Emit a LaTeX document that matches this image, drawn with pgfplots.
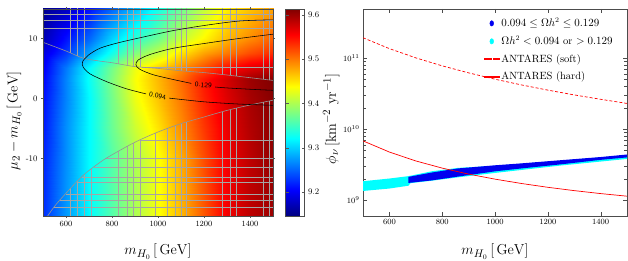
\documentclass[border=0pt]{standalone}
\usepackage{pgfplots}
\pgfplotsset{compat=1.18}
\definecolor{gridc}{RGB}{165,165,165}
\definecolor{cyn}{RGB}{0,255,255}
\definecolor{blu}{RGB}{0,0,240}
\definecolor{rd}{RGB}{255,0,0}
\begin{document}
\begin{tikzpicture}[x=1pt,y=1pt]
\begin{axis}[
  at={(43pt,44pt)}, anchor=south west,
  scale only axis, width=230pt, height=207pt,
  xmin=500, xmax=1500, ymin=-19.6, ymax=14.9,
  xtick={600,800,1000,1200,1400},
  ytick={-10,0,10}, yticklabels={-10,0,10},
  /pgf/number format/1000 sep={},
  tick align=outside, major tick length=2pt,
  tick style={gray!70!black, line width=0.4pt},
  axis line style={gray!60!black},
  tick label style={font=\fontsize{8.5}{10}\selectfont},
  xlabel={$m_{H_0}\,[\,\mathrm{GeV}]$},
  ylabel={$\mu_2-m_{H_0}\,[\,\mathrm{GeV}]$},
  label style={font=\fontsize{15}{18}\selectfont},
  xlabel style={at={(axis description cs:0.5,-0.172)}, anchor=center},
  ylabel style={at={(axis description cs:-0.125,0.46)}, anchor=center},
  colormap/jet,
  point meta min=9.146, point meta max=9.613,
  colorbar,
  colorbar style={
    at={(parent axis.north east)}, anchor=north west, xshift=4pt,
    scale only axis, width=19pt, height=207pt,
    ytick={9.2,9.3,9.4,9.5,9.6}, yticklabels={9.2,9.3,9.4,9.5,9.6},
    yticklabel style={font=\fontsize{8.5}{10}\selectfont},
    tick align=inside, major tick length=3pt,
    axis line style={gray!60!black},
  },
  axis on top,
]
\addplot[surf, shader=interp, mesh/rows=9, mesh/cols=11, point meta=explicit]
 table[x=x, y=y, meta=z] {
x y z
500 -20 9.225
600 -20 9.275
700 -20 9.32
800 -20 9.36
900 -20 9.40
1000 -20 9.435
1100 -20 9.47
1200 -20 9.515
1300 -20 9.56
1400 -20 9.585
1500 -20 9.60
500 -10 9.22
600 -10 9.27
700 -10 9.32
800 -10 9.36
900 -10 9.40
1000 -10 9.435
1100 -10 9.475
1200 -10 9.52
1300 -10 9.56
1400 -10 9.585
1500 -10 9.605
500 -5 9.215
600 -5 9.27
700 -5 9.32
800 -5 9.37
900 -5 9.415
1000 -5 9.45
1100 -5 9.49
1200 -5 9.53
1300 -5 9.565
1400 -5 9.59
1500 -5 9.607
500 0 9.21
600 0 9.265
700 0 9.32
800 0 9.375
900 0 9.43
1000 0 9.465
1100 0 9.50
1200 0 9.54
1300 0 9.57
1400 0 9.595
1500 0 9.61
500 3 9.205
600 3 9.265
700 3 9.325
800 3 9.38
900 3 9.435
1000 3 9.47
1100 3 9.505
1200 3 9.545
1300 3 9.575
1400 3 9.60
1500 3 9.615
500 5 9.20
600 5 9.26
700 5 9.32
800 5 9.375
900 5 9.43
1000 5 9.46
1100 5 9.49
1200 5 9.52
1300 5 9.55
1400 5 9.57
1500 5 9.58
500 7.5 9.19
600 7.5 9.23
700 7.5 9.28
800 7.5 9.33
900 7.5 9.38
1000 7.5 9.41
1100 7.5 9.45
1200 7.5 9.48
1300 7.5 9.50
1400 7.5 9.52
1500 7.5 9.535
500 10 9.17
600 10 9.21
700 10 9.25
800 10 9.30
900 10 9.34
1000 10 9.37
1100 10 9.41
1200 10 9.44
1300 10 9.47
1400 10 9.49
1500 10 9.51
500 15 9.15
600 15 9.175
700 15 9.21
800 15 9.25
900 15 9.29
1000 15 9.33
1100 15 9.37
1200 15 9.41
1300 15 9.445
1400 15 9.465
1500 15 9.48
};
% grid lines (excluded regions)
\addplot[gridc, line width=0.45pt, unbounded coords=jump] coordinates {
(620,15)(620,7.6)(620,nan)
(649,15)(649,7.1)(649,nan)
(679,15)(679,6.68)(679,nan)
(827,15)(827,5.8)(827,nan)
(866,15)(866,5.5)(866,nan)
(892,15)(892,5.35)(892,nan)
(921,15)(921,5.2)(921,nan)
(1041,15)(1041,4.85)(1041,nan)
(1073,15)(1073,4.7)(1073,nan)
(1102,15)(1102,4.6)(1102,nan)
(1124,15)(1124,4.53)(1124,nan)
(1280,15)(1280,3.98)(1280,nan)
(1312,15)(1312,3.85)(1312,nan)
(1341,15)(1341,3.72)(1341,nan)
(1456,15)(1456,3.2)(1456,nan)
(1485,15)(1485,3.07)(1485,nan)
(500,14.0)(1500,14.0)(1500,nan)
(500,13.0)(1500,13.0)(1500,nan)
(500,11.7)(1500,11.7)(1500,nan)
(930,5.2)(1500,5.2)
};
\addplot[gridc, line width=0.45pt, unbounded coords=jump] coordinates {
(620,-20)(620,-15.0)(620,nan)
(649,-20)(649,-13.8)(649,nan)
(679,-20)(679,-12.7)(679,nan)
(711,-20)(711,-11.7)(711,nan)
(827,-20)(827,-8.8)(827,nan)
(866,-20)(866,-8.0)(866,nan)
(892,-20)(892,-7.45)(892,nan)
(921,-20)(921,-6.95)(921,nan)
(986,-20)(986,-5.8)(986,nan)
(1041,-20)(1041,-5.0)(1041,nan)
(1073,-20)(1073,-4.6)(1073,nan)
(1102,-20)(1102,-4.2)(1102,nan)
(1124,-20)(1124,-3.95)(1124,nan)
(1280,-20)(1280,-2.2)(1280,nan)
(1312,-20)(1312,-1.9)(1312,nan)
(1341,-20)(1341,-1.65)(1341,nan)
(1456,-20)(1456,-0.65)(1456,nan)
(1485,-20)(1485,-0.4)(1485,nan)
(924,-6.9)(1500,-6.9)(1500,nan)
(775,-10.0)(1500,-10.0)(1500,nan)
(722,-11.4)(1500,-11.4)(1500,nan)
(668,-13.1)(1500,-13.1)(1500,nan)
(648,-13.9)(1500,-13.9)(1500,nan)
(598,-15.9)(1500,-15.9)(1500,nan)
(573,-17.0)(1500,-17.0)(1500,nan)
(546,-18.2)(1500,-18.2)
};
% boundary curves
\addplot[gridc!90!black, line width=0.6pt, smooth] coordinates {
(500,9.35)(600,7.9)(675,6.7)(750,6.2)(800,5.95)(900,5.3)(1000,5.0)(1100,4.6)(1200,4.3)(1300,3.9)(1400,3.45)(1500,3.0)};
\addplot[gridc!90!black, line width=0.6pt, smooth] coordinates {
(513,-20)(550,-18)(600,-15.8)(675,-12.8)(750,-10.6)(800,-9.4)(900,-7.3)(1000,-5.6)(1100,-4.2)(1200,-3.1)(1300,-2.0)(1400,-1.1)(1500,-0.3)};
% contours
\addplot[black, line width=0.55pt, smooth] coordinates {
(1500,13.1)(1355,12.9)(1210,12.2)(1066,11.3)(921,10.1)(820,9.2)(747,8.35)(697,7.2)(672,6.1)(675,5.2)(704,4.1)(776,2.8)(863,1.6)(948,0.75)};
\addplot[black, line width=0.55pt, smooth] coordinates {
(1048,0.05)(1095,-0.15)(1210,-0.6)(1355,-0.95)(1500,-1.15)};
\addplot[black, line width=0.55pt, smooth] coordinates {
(1500,10.7)(1355,10.0)(1210,9.2)(1066,8.35)(964,7.3)(914,6.4)(904,5.6)(921,4.85)(979,3.95)(1066,3.15)(1145,2.5)};
\addplot[black, line width=0.55pt, smooth] coordinates {
(1248,1.9)(1297,1.75)(1413,1.5)(1500,1.35)};
\node[font=\sffamily\fontsize{7}{8}\selectfont, rotate=-9, inner sep=0pt] at (axis cs:998,0.4) {0.094};
\node[font=\sffamily\fontsize{7}{8}\selectfont, rotate=-6, inner sep=0pt] at (axis cs:1197,2.2) {0.129};
\end{axis}

\begin{axis}[
  at={(363pt,44pt)}, anchor=south west,
  scale only axis, width=264pt, height=207pt,
  xmin=500, xmax=1500, ymode=log, ymin=6e8, ymax=4.9e11,
  xtick={600,800,1000,1200,1400}, ytick={1e9,1e10,1e11},
  /pgf/number format/1000 sep={},
  tick align=inside,
  axis line style={gray!60!black},
  tick style={gray!60!black},
  tick label style={font=\fontsize{8.5}{10}\selectfont},
  xlabel={$m_{H_0}\,[\,\mathrm{GeV}]$},
  ylabel={$\phi_\nu\,[\mathrm{km}^{-2}\ \mathrm{yr}^{-1}]$},
  label style={font=\fontsize{15}{18}\selectfont},
  xlabel style={at={(axis description cs:0.5,-0.172)}, anchor=center},
  ylabel style={at={(axis description cs:-0.12,0.47)}, anchor=center},
  legend style={draw=none, fill=none, at={(0.965,0.975)}, anchor=north east,
    font=\fontsize{10.5}{12}\selectfont, row sep=4pt},
  legend cell align=left,
]
\addlegendimage{legend image code/.code={\fill[blu] (7.5pt,0pt) ellipse [x radius=1.9pt, y radius=2.7pt];}}
\addlegendentry{$0.094\le\Omega h^2\le0.129$}
\addlegendimage{legend image code/.code={\fill[cyn] (7.5pt,0pt) ellipse [x radius=1.9pt, y radius=2.7pt];}}
\addlegendentry{$\Omega h^2<0.094$ or $>0.129$}
\addlegendimage{legend image code/.code={\fill[rd] (0pt,-0.4pt) rectangle (2.8pt,0.4pt) (4.4pt,-0.4pt) rectangle (7.2pt,0.4pt) (8.8pt,-0.4pt) rectangle (11.6pt,0.4pt) (13.2pt,-0.4pt) rectangle (15pt,0.4pt);}}
\addlegendentry{ANTARES (soft)}
\addlegendimage{legend image code/.code={\fill[rd] (0pt,-0.4pt) rectangle (15pt,0.4pt);}}
\addlegendentry{ANTARES (hard)}
\addplot[forget plot, fill=cyn, draw=none] coordinates {
(500,1.85e9)(600,2.02e9)(672,2.18e9)(760,2.55e9)(860,2.85e9)(1000,3.05e9)(1250,3.60e9)(1500,4.30e9)
(1500,3.81e9)(1250,3.08e9)(1000,2.42e9)(860,2.10e9)(760,1.88e9)(680,1.74e9)(672,1.60e9)(600,1.46e9)(500,1.35e9)};
\addplot[forget plot, fill=blu, draw=none] coordinates {
(672,2.13e9)(760,2.45e9)(860,2.80e9)(1000,3.10e9)(1100,3.30e9)(1250,3.66e9)(1400,4.05e9)(1500,4.40e9)
(1500,4.00e9)(1400,3.70e9)(1250,3.20e9)(1100,2.80e9)(1000,2.55e9)(860,2.15e9)(760,1.90e9)(672,1.75e9)};
\addplot[forget plot, color=rd, line width=0.7pt, dash pattern=on 3pt off 2pt] coordinates {
(500,1.93e11)(600,1.357e11)(700,1.006e11)(800,7.77e10)(900,6.19e10)(1000,5.04e10)(1100,4.19e10)(1200,3.54e10)(1300,3.03e10)(1400,2.63e10)(1500,2.30e10)};
\addplot[forget plot, color=rd, line width=0.7pt] coordinates {
(500,6.84e9)(600,4.76e9)(700,3.57e9)(800,2.83e9)(900,2.33e9)(1000,1.98e9)(1100,1.72e9)(1200,1.52e9)(1300,1.365e9)(1400,1.24e9)(1500,1.14e9)};
\end{axis}
\pgfresetboundingbox
\path[use as bounding box] (0,0) rectangle (628,260);
\end{tikzpicture}
\end{document}
